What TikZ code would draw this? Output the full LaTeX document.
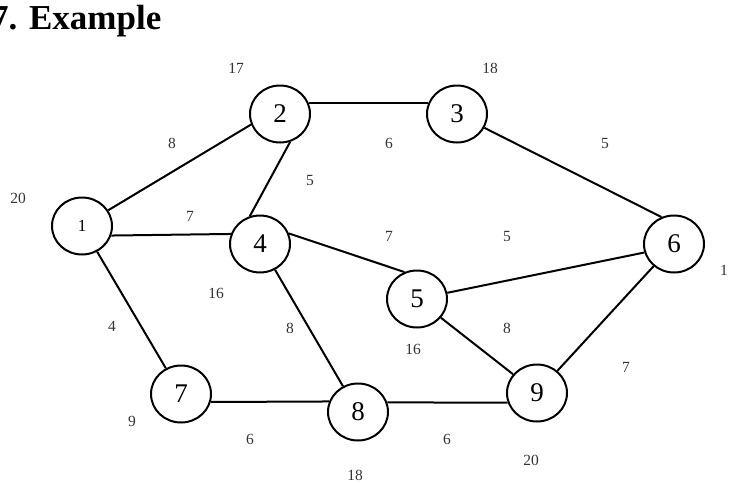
\documentclass[tikz,border=0pt]{standalone}
\usepackage{fontspec}
\setmainfont{Liberation Serif}
\usetikzlibrary{shapes.geometric}
\begin{document}
\begin{tikzpicture}[x=1pt,y=-1pt,
  vtx/.style={draw, ellipse, line width=2pt, minimum width=60pt, minimum height=57pt, inner sep=0pt, font=\fontsize{27}{27}\selectfont},
  edge/.style={line width=2pt},
  lbl/.style={font=\fontsize{15.5}{16}\selectfont, text=black!80, inner sep=0pt}]
\useasboundingbox (0,0) rectangle (729,483);
\node[anchor=base west, font=\fontsize{35}{35}\selectfont\bfseries, inner sep=0pt] (title) at (-9,29) {7. Example};
% vertices
\node[vtx, font=\fontsize{17}{17}\selectfont] (n1) at (82,226) {1};
\node[vtx] (n2) at (280,114) {2};
\node[vtx] (n3) at (457,114) {3};
\node[vtx] (n4) at (260,244) {4};
\node[vtx] (n5) at (417,299) {5};
\node[vtx] (n6) at (674,244) {6};
\node[vtx] (n7) at (181,394) {7};
\node[vtx] (n8) at (358,412) {8};
\node[vtx] (n9) at (537,393) {9};
% edges
\draw[edge] (n1) -- (n2.-160);
\draw[edge] (n1.-18) -- (n4.161);
\draw[edge] (n1) -- (n7);
\draw[edge] (n2.20) -- (n3.160);
\draw[edge] (n2.-70) -- (n4.110);
\draw[edge] (n3) -- (n6.115);
\draw[edge] (n4.20) -- (n5.115);
\draw[edge] (n4) -- (n8);
\draw[edge] (n5) -- (n6.-164);
\draw[edge] (n5) -- (n9);
\draw[edge] (n6) -- (n9);
\draw[edge] (n7.-15) -- (n8.160);
\draw[edge] (n8.18) -- (n9.-162);
% labels
\node[lbl] (l17) at (236,68) {17};
\node[lbl] (l18a) at (490,68) {18};
\node[lbl] (l8a) at (172,143) {8};
\node[lbl] (l6a) at (389,143) {6};
\node[lbl] (l5a) at (605,143) {5};
\node[lbl] (l5b) at (310,180) {5};
\node[lbl] (l20a) at (18,198) {20};
\node[lbl] (l7a) at (190,216) {7};
\node[lbl] (l7b) at (389,236) {7};
\node[lbl] (l5c) at (507,236) {5};
\node[lbl] (l1) at (724,270) {1};
\node[lbl] (l16a) at (216,293) {16};
\node[lbl] (l4) at (112,326) {4};
\node[lbl] (l8b) at (290,328) {8};
\node[lbl] (l8c) at (507,328) {8};
\node[lbl] (l16b) at (413,349) {16};
\node[lbl] (l7c) at (626,367) {7};
\node[lbl] (l9) at (132,421) {9};
\node[lbl] (l6b) at (250,439) {6};
\node[lbl] (l6c) at (447,439) {6};
\node[lbl] (l20b) at (531,460) {20};
\node[lbl] (l18b) at (355,475) {18};
\end{tikzpicture}
\end{document}
